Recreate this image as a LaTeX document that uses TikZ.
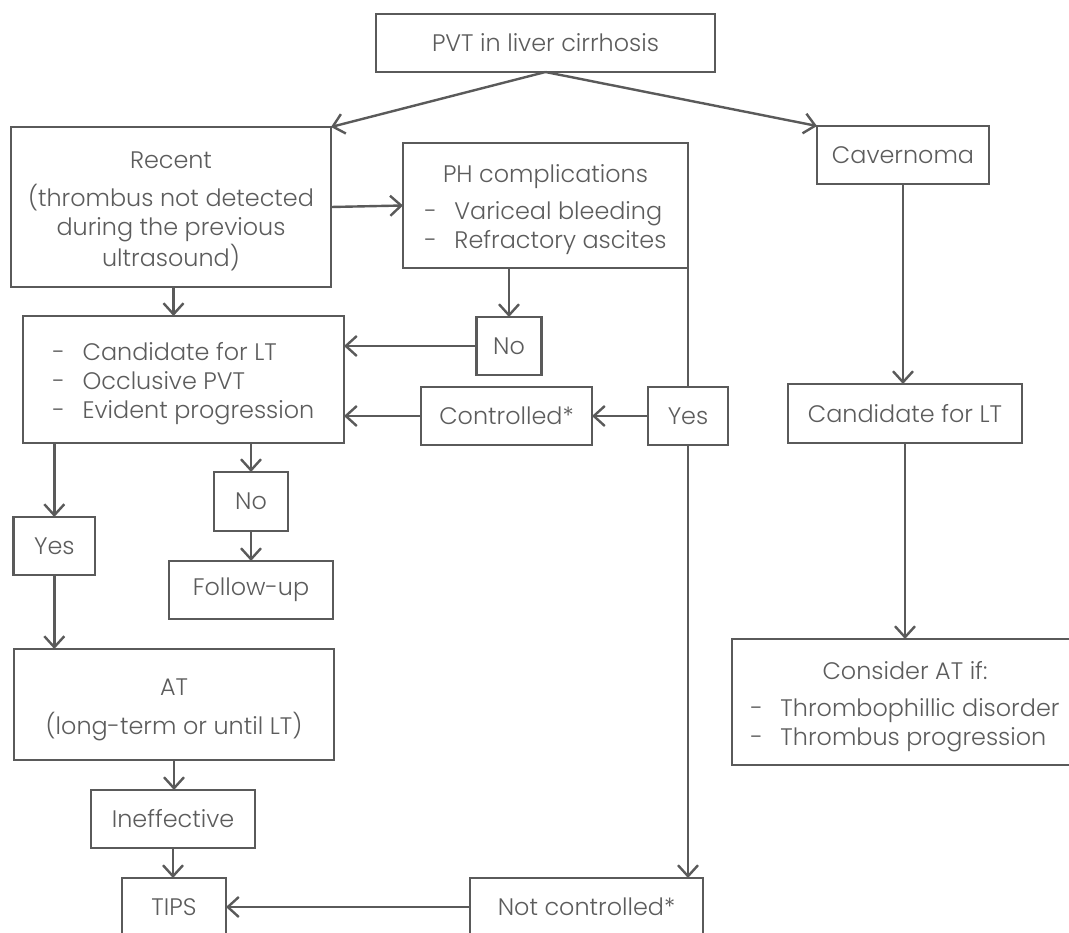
\documentclass[tikz,border=0pt]{standalone}
\usepackage{fontspec}
\setmainfont{Poppins Light}
\usetikzlibrary{arrows.meta}
\definecolor{ln}{HTML}{5A5A5A}
\definecolor{tx}{HTML}{5C5C5C}
\newcommand\li[1]{\makebox[30pt][l]{-}#1}
\newcommand\lowr[1]{\raisebox{-4.5pt}[\height][\depth]{#1}}
\newlength\mytw
\begin{document}
\settowidth\mytw{\fontsize{10pt}{12pt}\selectfont Thrombophillic disorder}
\pgfmathsetmacro\myfs{10*279/\mytw}
\begin{tikzpicture}[x=1pt,y=-1pt,
  box/.style={draw=ln, line width=2.4pt, text=tx, font=\fontsize{\myfs pt}{29pt}\selectfont,
    inner sep=0pt, outer sep=0pt},
  arr/.style={draw=ln, line width=2.4pt, -{Straight Barb[length=11pt,width=20pt]}},
  ln/.style={draw=ln, line width=2.4pt}]
\fill[white] (0,0) rectangle (1069,933);
\clip (0,0) rectangle (1069,933);
% nodes
\node[box, minimum width=339pt, minimum height=58pt] (pvt) at (545.5,43) {\raisebox{-1.5pt}{PVT in liver cirrhosis}};
\node[box, minimum width=320pt, minimum height=160pt] (recent) at (171,207)
  {\lowr{\begin{tabular}{@{}c@{}}Recent\\[7pt](thrombus not detected\\during the previous\\ultrasound)\end{tabular}}};
\node[box, minimum width=285pt, minimum height=125pt] (ph) at (545.5,205.5)
  {\lowr{\begin{tabular}{@{}c@{}}PH complications\\[8pt]\begin{tabular}[t]{@{}l@{}}\li{Variceal bleeding}\\\li{Refractory ascites}\end{tabular}\end{tabular}}};
\node[box, minimum width=172pt, minimum height=58pt] (cav) at (903,155) {Cavernoma};
\node[box, minimum width=321pt, minimum height=127pt] (cand) at (183.5,379.5)
  {\lowr{\begin{tabular}{@{}l@{}}\li{Candidate for LT}\\\li{Occlusive PVT}\\\li{Evident progression}\end{tabular}}};
\node[box, minimum width=65pt, minimum height=58pt] (no1) at (509,346) {No};
\node[box, minimum width=171pt, minimum height=58pt] (ctrl) at (506.5,416) {Controlled*};
\node[box, minimum width=80.5pt, minimum height=58pt] (yes1) at (688,416) {Yes};
\node[box, minimum width=234pt, minimum height=59pt] (candr) at (905,413.5) {Candidate for LT};
\node[box, minimum width=81.4pt, minimum height=58pt] (yes2) at (54.3,546) {Yes};
\node[box, minimum width=74pt, minimum height=59pt] (no2) at (251,501.5) {No};
\node[box, minimum width=164.5pt, minimum height=58pt] (fu) at (251,590) {Follow-up};
\node[box, minimum width=320pt, minimum height=111pt] (at) at (174,704.5)
  {\lowr{\begin{tabular}{@{}c@{}}AT\\[8pt](long-term or until LT)\end{tabular}}};
\node[box, minimum width=164pt, minimum height=58pt] (ineff) at (173,819) {Ineffective};
\node[box, minimum width=346pt, minimum height=126pt] (cons) at (905,702)
  {\lowr{\begin{tabular}{@{}c@{}}Consider AT if:\\[8pt]\begin{tabular}[t]{@{}l@{}}\li{Thrombophillic disorder}\\\li{Thrombus progression}\end{tabular}\end{tabular}}};
\node[box, minimum width=104pt, minimum height=58pt] (tips) at (174,907) {TIPS};
\node[box, minimum width=233pt, minimum height=58pt] (nc) at (586.5,907) {Not controlled*};
% connectors
\draw[arr] (pvt.south) -- (recent.north east);
\draw[arr] (pvt.south) -- (cav.north west);
\draw[arr] (recent.east) -- (ph.west);
\draw[arr] (173.5,287) coordinate (rs) -- (rs |- cand.north);
\draw[arr] (no1.north |- ph.south) -- (no1.north);
\draw[arr] (no1.west) -- (no1.west -| cand.east);
\draw[arr] (ctrl.west) -- (ctrl.west -| cand.east);
\draw[arr] (yes1.west) -- (ctrl.east);
\draw[ln] (ph.south east) -- (yes1.north);
\draw[arr] (yes1.south) -- (yes1.south |- nc.north);
\draw[arr] (nc.west) -- (tips.east);
\draw[arr] (yes2.north |- cand.south) -- (yes2.north);
\draw[arr] (no2.north |- cand.south) -- (no2.north);
\draw[arr] (no2.south) -- (fu.north);
\draw[arr] (yes2.south) -- (yes2.south |- at.north);
\draw[arr] (at.south) -- (at.south |- ineff.north);
\draw[arr] (ineff.south) -- (ineff.south |- tips.north);
\draw[arr] (cav.south) -- (cav.south |- candr.north);
\draw[arr] (candr.south) -- (candr.south |- cons.north);
\end{tikzpicture}
\end{document}
